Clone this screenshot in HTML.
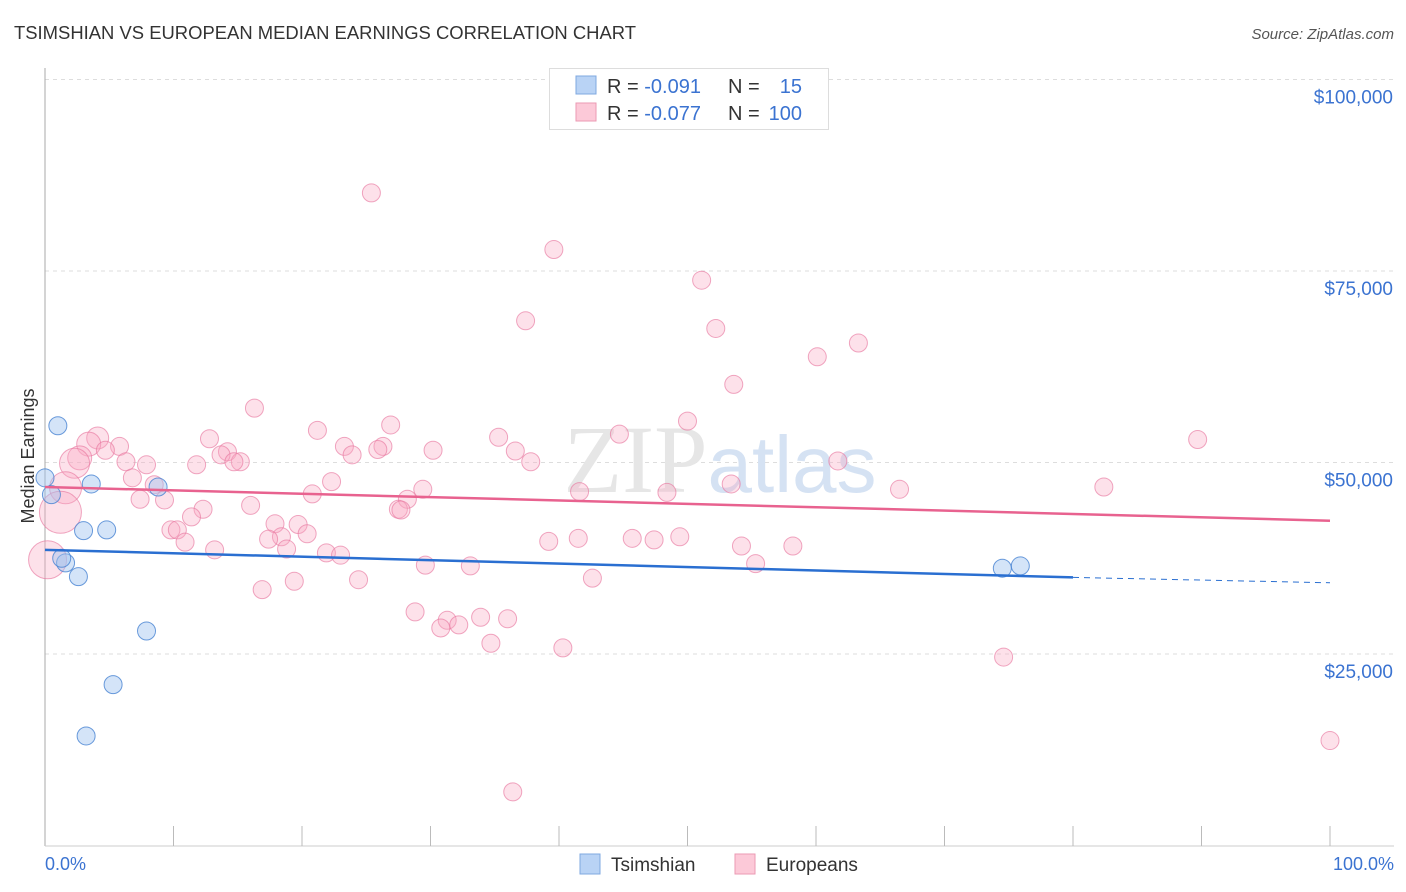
<!DOCTYPE html>
<html><head><meta charset="utf-8"><style>
body{margin:0;background:#fff;font-family:"Liberation Sans",sans-serif}
svg{display:block}
</style></head><body>
<svg width="1406" height="892" viewBox="0 0 1406 892" xmlns="http://www.w3.org/2000/svg">
<text x="14" y="39" font-size="18" fill="#333" textLength="622" lengthAdjust="spacingAndGlyphs">TSIMSHIAN VS EUROPEAN MEDIAN EARNINGS CORRELATION CHART</text>
<text x="1394" y="39" font-size="15" fill="#555" font-style="italic" text-anchor="end">Source: ZipAtlas.com</text>
<g id="grid"></g>
<text x="720" y="492" font-size="96" fill="#e6e6e6" text-anchor="middle" font-family="Liberation Serif,serif">ZIP<tspan fill="#d5e2f3" font-family="Liberation Sans,sans-serif" font-size="80">atlas</tspan></text>
<line x1="45" y1="68" x2="45" y2="846" stroke="#aaa"/>
<line x1="45" y1="846" x2="1394" y2="846" stroke="#ccc"/>
<g id="xticks"></g>
<g id="ylabels"></g>
<text x="34" y="456" font-size="18" fill="#333" text-anchor="middle" transform="rotate(-90 34 456)">Median Earnings</text>
<text x="45" y="870" font-size="18" fill="#3b73d1">0.0%</text>
<text x="1394" y="870" font-size="18" fill="#3b73d1" text-anchor="end">100.0%</text>
<g id="pink"></g>
<g id="blue"></g>
<g id="trends"></g>
<g>
<rect x="549.5" y="68.5" width="279" height="61" fill="#fff" stroke="#ddd"/>
<rect x="576" y="76" width="20" height="18" fill="#b9d3f5" stroke="#7fa8e0"/>
<rect x="576" y="103" width="20" height="18" fill="#fcc9d8" stroke="#eb9ab3"/>
<text x="607" y="93" font-size="20" fill="#333">R = <tspan fill="#3b73d1">-0.091</tspan></text>
<text x="728" y="93" font-size="20" fill="#333">N = </text><text x="802" y="93" font-size="20" fill="#3b73d1" text-anchor="end">15</text>
<text x="607" y="120" font-size="20" fill="#333">R = <tspan fill="#3b73d1">-0.077</tspan></text>
<text x="728" y="120" font-size="20" fill="#333">N = </text><text x="802" y="120" font-size="20" fill="#3b73d1" text-anchor="end">100</text>
</g>
<g>
<rect x="580" y="854" width="20" height="20" fill="#b9d3f5" stroke="#7fa8e0"/>
<text x="611" y="871" font-size="19" fill="#333">Tsimshian</text>
<rect x="735" y="854" width="20" height="20" fill="#fcc9d8" stroke="#eb9ab3"/>
<text x="766" y="871" font-size="19" fill="#333">Europeans</text>
</g>
</svg>
<script>
const yTicks=[25000,50000,75000,100000];
const yTickLabels=["$25,000","$50,000","$75,000","$100,000"];
const blueX=[1.0,0,0.5,3.6,8.8,3.0,4.8,1.6,1.3,2.6,7.9,5.3,3.2,74.5,75.9];
const blueY=[54.8,48.0,45.8,47.2,46.8,41.1,41.2,36.9,37.5,35.1,28.0,21.0,14.3,36.2,36.5];
const pinkX=[25.4,39.6,51.1,37.4,52.2,63.3,60.1,53.6,16.3,26.9,50.0,21.2,44.7,35.3,89.7,12.8,4.1,3.4,5.8,4.7,23.3,26.3,25.9,30.2,36.6,14.2,13.7,23.9,2.7,15.2,14.7,6.3,37.8,61.7,7.9,11.8,2.3,6.8,1.6,8.5,22.3,29.4,53.4,82.4,66.5,20.8,41.6,48.4,7.4,9.3,28.2,16.0,12.3,27.5,27.7,1.2,11.4,17.9,19.7,9.8,10.3,20.4,18.4,17.4,49.4,39.2,41.5,45.7,47.4,10.9,54.2,58.2,13.2,18.8,21.9,23.0,0.2,29.6,33.1,55.3,24.4,19.4,42.6,16.9,28.8,33.9,36.0,31.3,32.2,30.8,34.7,40.3,74.6,100,36.4];
const pinkY=[85.2,77.8,73.8,68.5,67.5,65.6,63.8,60.2,57.1,54.9,55.4,54.2,53.7,53.3,53.0,53.1,53.2,52.4,52.1,51.6,52.1,52.1,51.7,51.6,51.5,51.4,51.0,51.0,50.6,50.1,50.1,50.1,50.1,50.2,49.7,49.7,49.9,48.0,46.7,47.1,47.5,46.5,47.2,46.8,46.5,45.9,46.2,46.1,45.2,45.1,45.2,44.4,43.9,43.9,43.8,43.5,42.9,42.0,41.9,41.2,41.2,40.7,40.3,40.0,40.3,39.7,40.1,40.1,39.9,39.6,39.1,39.1,38.6,38.7,38.2,37.9,37.3,36.6,36.5,36.8,34.7,34.5,34.9,33.4,30.5,29.8,29.6,29.4,28.8,28.4,26.4,25.8,24.6,13.7,7.0];
const pinkR=[9,9,9,9,9,9,9,9,9,9,9,9,9,9,9,9,11,12,9,9,9,9,9,9,9,9,9,9,12,9,9,9,9,9,9,9,15,9,16,9,9,9,9,9,9,9,9,9,9,9,9,9,9,9,9,21,9,9,9,9,9,9,9,9,9,9,9,9,9,9,9,9,9,9,9,9,19,9,9,9,9,9,9,9,9,9,9,9,9,9,9,9,9,9,9];
const blueTrend=[38.6,35.0,34.3]; const blueTrendX=[0,80,100];
const pinkTrend=[46.8,42.4]; const pinkTrendX=[0,100];
const X=v=>45+v*12.85, Y=v=>845.5-v*1000*191.5/25000;
const NS="http://www.w3.org/2000/svg";
function mk(t,a,p){const e=document.createElementNS(NS,t);for(const k in a)e.setAttribute(k,a[k]);p.appendChild(e);return e;}
const grid=document.getElementById('grid'),yl=document.getElementById('ylabels');
yTicks.forEach((t,i)=>{const y=Y(t/1000);
const l=mk('line',{x1:45,x2:1394,y1:y,y2:y,stroke:'#ddd','stroke-dasharray':'4 4'},grid);


const tx=mk('text',{x:1393,y:y+24,'font-size':19,fill:'#3b73d1','text-anchor':'end'},yl);tx.textContent=yTickLabels[i];

});
const xt=document.getElementById('xticks');
for(let i=1;i<=10;i++){const x=45+i*128.5;const l=mk('line',{x1:x,x2:x,y1:826,y2:846,stroke:'#bbb'},xt);

}
const pg=document.getElementById('pink');
pinkX.forEach((v,i)=>{const c=mk('circle',{cx:X(v),cy:Y(pinkY[i]),r:pinkR[i],fill:'rgba(248,170,196,0.35)',stroke:'rgba(232,120,160,0.65)','stroke-width':1},pg);

});
const bg=document.getElementById('blue');
blueX.forEach((v,i)=>{const c=mk('circle',{cx:X(v),cy:Y(blueY[i]),r:9,fill:'rgba(160,196,240,0.45)',stroke:'rgba(70,130,210,0.8)','stroke-width':1},bg);

});
const tg=document.getElementById('trends');
const pl=mk('line',{x1:X(pinkTrendX[0]),y1:Y(pinkTrend[0]),x2:X(pinkTrendX[1]),y2:Y(pinkTrend[1]),stroke:'#e8628f','stroke-width':2.5},tg);


const bl=mk('line',{x1:X(blueTrendX[0]),y1:Y(blueTrend[0]),x2:X(blueTrendX[1]),y2:Y(blueTrend[1]),stroke:'#2a6fd1','stroke-width':2.5},tg);


const bd=mk('line',{x1:X(blueTrendX[1]),y1:Y(blueTrend[1]),x2:X(blueTrendX[2]),y2:Y(blueTrend[2]),stroke:'#2a6fd1','stroke-width':1,'stroke-dasharray':'6 5'},tg);


</script>
</body></html>
